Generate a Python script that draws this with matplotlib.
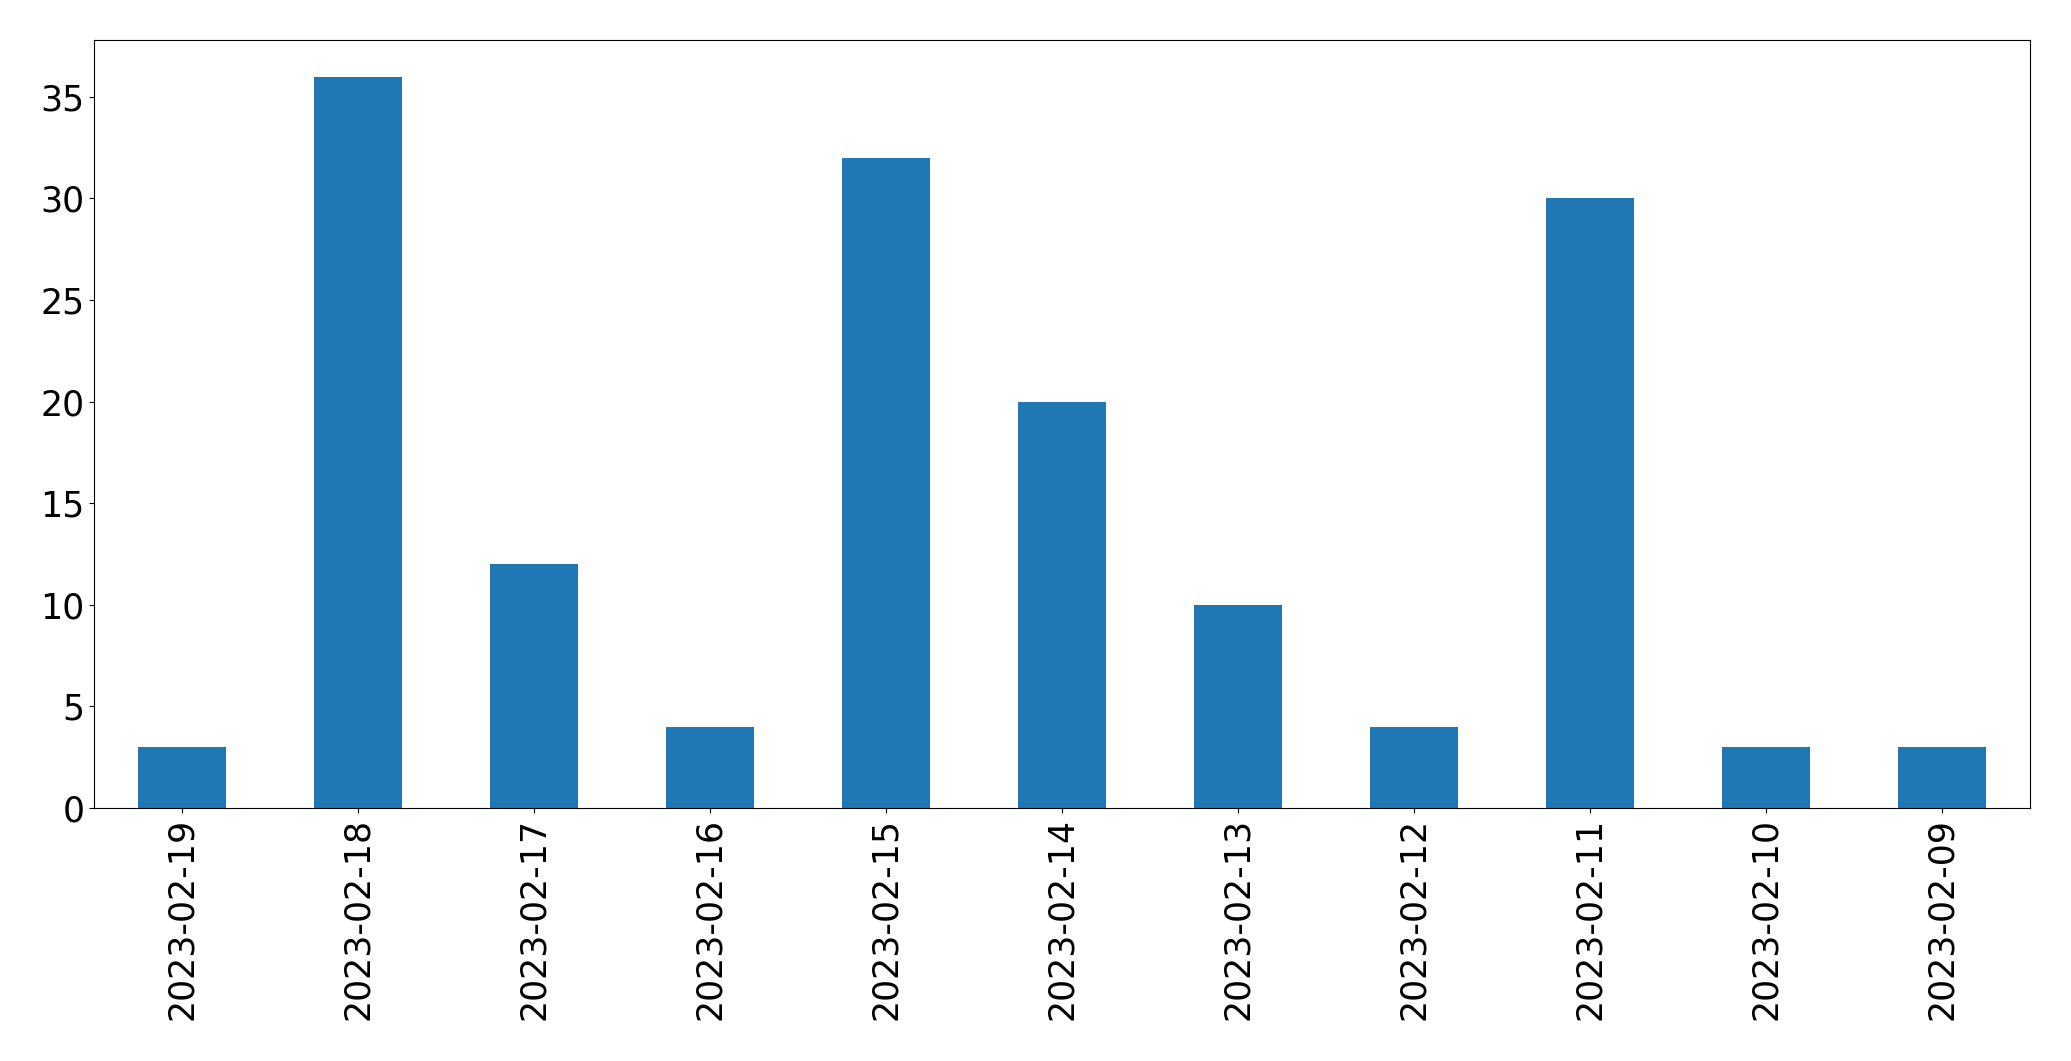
import matplotlib
matplotlib.use('Agg')
import matplotlib.pyplot as plt
import numpy as np

# data
dates = ["2023-02-19", "2023-02-18", "2023-02-17", "2023-02-16", "2023-02-15",
         "2023-02-14", "2023-02-13", "2023-02-12", "2023-02-11", "2023-02-10",
         "2023-02-09"]
counts = [3, 36, 12, 4, 32, 20, 10, 4, 30, 3, 3]

fig = plt.figure(figsize=(20.71, 10.61), dpi=100)
ax = fig.add_axes([94 / 2071, 1 - 808 / 1061, (2030 - 94) / 2071, (808 - 40) / 1061])

x = np.arange(len(dates))
ax.bar(x, counts, width=0.5, color='#1f77b4')
ax.set_xlim(-0.5, len(dates) - 0.5)
ax.set_xticks(x)
ax.set_xticklabels(dates, rotation=90)
ax.tick_params(labelsize=25)

fig.savefig('out.png', dpi=100)
